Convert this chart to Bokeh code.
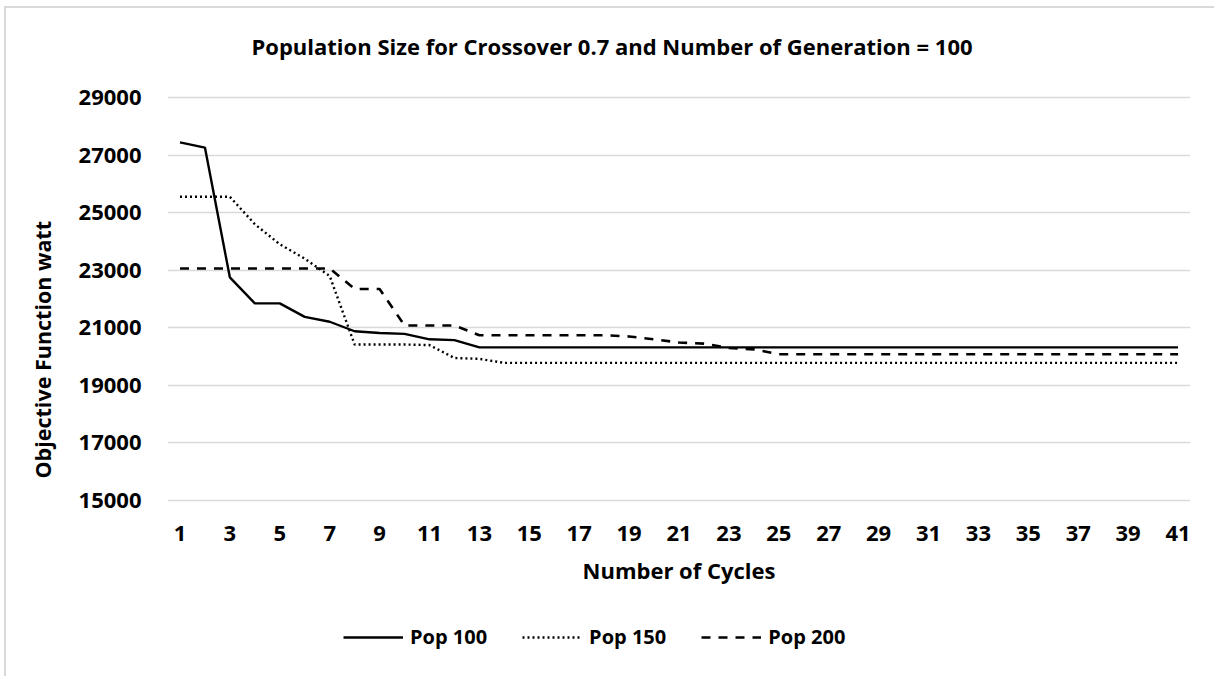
from bokeh.plotting import figure
from bokeh.models import Range1d, FixedTicker, Legend, LegendItem, Title
from bokeh.embed import file_html
from bokeh.resources import INLINE

cycles = list(range(1, 42))
pop100 = [27440, 27260, 22750, 21850, 21850, 21380, 21210, 20880, 20820, 20790,
          20600, 20570, 20320, 20320, 20320, 20320, 20320, 20320, 20320, 20320,
          20320, 20320, 20320, 20320, 20320, 20320, 20320, 20320, 20320, 20320,
          20320, 20320, 20320, 20320, 20320, 20320, 20320, 20320, 20320, 20320,
          20320]
pop150 = [25550, 25550, 25550, 24600, 23900, 23400, 22800, 20420, 20420, 20420,
          20400, 19950, 19920, 19780, 19780, 19780, 19780, 19780, 19780, 19780,
          19780, 19780, 19780, 19780, 19780, 19780, 19780, 19780, 19780, 19780,
          19780, 19780, 19780, 19780, 19780, 19780, 19780, 19780, 19780, 19780,
          19780]
pop200 = [23060, 23060, 23060, 23060, 23060, 23060, 23060, 22350, 22350, 21080,
          21080, 21080, 20740, 20740, 20740, 20740, 20740, 20740, 20700, 20600,
          20490, 20450, 20300, 20250, 20080, 20080, 20080, 20080, 20080, 20080,
          20080, 20080, 20080, 20080, 20080, 20080, 20080, 20080, 20080, 20080,
          20080]
y_ticks = [15000, 17000, 19000, 21000, 23000, 25000, 27000, 29000]
x_ticks = [1, 3, 5, 7, 9, 11, 13, 15, 17, 19, 21, 23, 25, 27, 29, 31, 33, 35, 37, 39, 41]
series_names = ["Pop 100", "Pop 150", "Pop 200"]
title_text = "Population Size for Crossover 0.7 and Number of Generation = 100"
y_title = "Objective Function watt"
x_title = "Number of Cycles"

FONT = "Open Sans"

p = figure(width=1210, height=670, output_backend="svg", toolbar_location=None,
           x_range=Range1d(0.5, 41.5), y_range=Range1d(9095, 29938),
           min_border_left=160, min_border_right=26, min_border_top=62,
           min_border_bottom=8)
p.styles = {"border-left": "2px solid #d9d9d9", "border-top": "2px solid #d9d9d9",
            "margin-left": "4px", "margin-top": "6px"}

p.title = Title(text=title_text, align="left", offset=84, standoff=20,
                text_font=FONT, text_font_size="22px", text_font_style="bold",
                text_color="#000000")

p.outline_line_color = None
p.background_fill_color = "white"
p.border_fill_color = "white"
p.xgrid.visible = False
p.ygrid.grid_line_color = "#d9d9d9"
p.ygrid.grid_line_width = 1.5

p.yaxis.ticker = FixedTicker(ticks=y_ticks)
p.xaxis.ticker = FixedTicker(ticks=x_ticks)
for ax in (p.xaxis[0], p.yaxis[0]):
    ax.axis_line_color = None
    ax.major_tick_line_color = None
    ax.minor_tick_line_color = None
    ax.major_label_text_font = FONT
    ax.major_label_text_font_size = "22px"
    ax.major_label_text_font_style = "bold"
    ax.major_label_text_color = "#000000"
    ax.axis_label_text_font = FONT
    ax.axis_label_text_font_style = "bold"
    ax.axis_label_text_color = "#000000"

p.xaxis.fixed_location = 15000
p.yaxis.major_label_standoff = 20
p.xaxis.major_label_standoff = 19
p.xaxis.axis_label = x_title
p.xaxis.axis_label_text_font_size = "22px"
p.xaxis.axis_label_standoff = 11

p.add_layout(Title(text=y_title, align="left", offset=192, standoff=38,
                   text_font=FONT, text_font_size="21.5px", text_font_style="bold",
                   text_color="#000000"), "left")

r1 = p.line(cycles, pop100, line_color="black", line_width=2.4)
r2 = p.line(cycles, pop150, line_color="black", line_width=2.4, line_dash="2 3")
r3 = p.line(cycles, pop200, line_color="black", line_width=2.6, line_dash="9 8")

legend = Legend(items=[LegendItem(label=series_names[0], renderers=[r1]),
                       LegendItem(label=series_names[1], renderers=[r2]),
                       LegendItem(label=series_names[2], renderers=[r3])],
                orientation="horizontal", location=(176, 20),
                glyph_width=60, glyph_height=20, label_standoff=7, spacing=35,
                label_text_font=FONT, label_text_font_size="20px",
                label_text_font_style="bold", label_text_color="#000000",
                border_line_color=None, background_fill_alpha=0,
                padding=0, margin=0)
p.add_layout(legend, "center")

open("out.html", "w").write(file_html(p, INLINE))
